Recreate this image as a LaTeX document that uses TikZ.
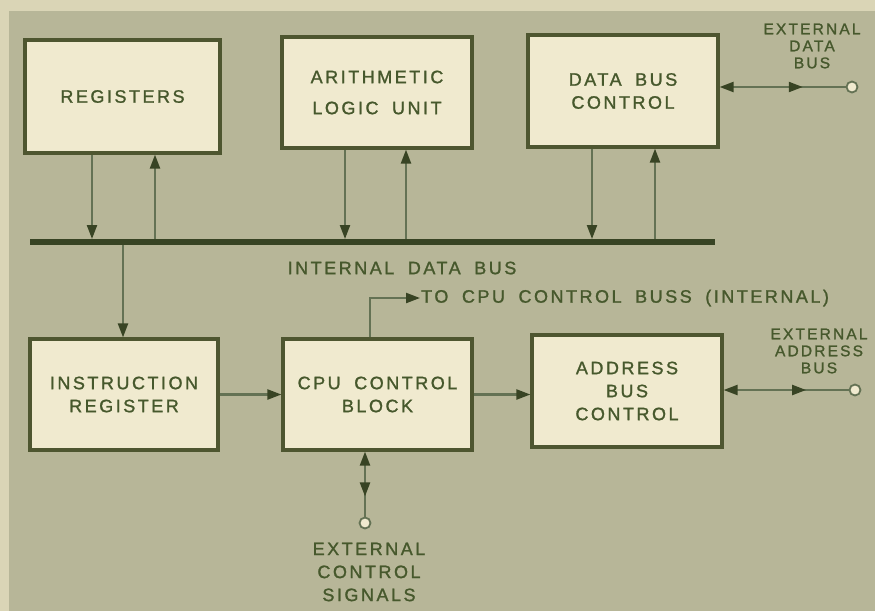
\documentclass[tikz,border=0pt]{standalone}
\usepackage{fontspec}
\setmainfont{Liberation Sans}
\newfontfamily\hand[LetterSpace=14,WordSpace=1.8,FakeBold=1.3]{Liberation Sans}
\usetikzlibrary{arrows.meta,decorations.markings}
\definecolor{bg}{RGB}{183,182,152}
\definecolor{strip}{RGB}{218,213,182}
\definecolor{paper}{RGB}{240,234,207}
\definecolor{ink}{RGB}{70,88,44}
\definecolor{edge}{RGB}{78,86,48}
\definecolor{wire}{RGB}{100,114,84}
\definecolor{busc}{RGB}{56,68,36}
\begin{document}
\begin{tikzpicture}[x=1pt,y=-1pt,
  block/.style={draw=edge,line width=3.2pt,fill=paper,inner sep=0pt,align=center,
    text=ink,font=\hand\fontsize{18}{23}\selectfont},
  lbl/.style={inner sep=0pt,align=center,text=ink,font=\hand\fontsize{18}{23}\selectfont},
  slbl/.style={inner sep=0pt,align=center,text=ink,font=\hand\fontsize{15.5}{17}\selectfont},
  busline/.style={draw=busc,line width=6.5pt},
  wireline/.style={draw=wire,line width=2.2pt},
  arr/.style={wireline,-{Triangle[length=14pt,width=10pt,color=busc]}},
  arrdown/.style={arr,shorten >=3pt},
  arrup/.style={wireline,shorten <=3pt,-{Triangle[length=14pt,width=10pt,color=busc]}},
  biarr/.style={wireline,{Triangle[length=14pt,width=10pt,color=busc]}-},
  midarrow/.style={postaction={decorate},decoration={markings,
    mark=at position #1 with {\arrow{Triangle[length=14pt,width=10pt,color=busc]}}}},
  pin/.style={circle,draw=wire,line width=1.8pt,fill=paper,minimum size=11pt,inner sep=0pt}]
\useasboundingbox (0,0) rectangle (875,611);
\fill[bg] (0,0) rectangle (875,611);
\fill[strip] (0,0) rectangle (875,11);
\fill[strip] (0,0) rectangle (9,611);

% blocks
\node[block,minimum width=195pt,minimum height=113pt] (reg) at (122.5,96.5) {REGISTERS};
\node[block,minimum width=190pt,minimum height=111pt] (alu) at (377,92.5) {ARITHMETIC\\[8pt]LOGIC UNIT};
\node[block,minimum width=190pt,minimum height=112pt] (dbc) at (623,91) {DATA BUS\\CONTROL};
\node[block,minimum width=188pt,minimum height=111pt] (ir) at (124,394.5) {INSTRUCTION\\REGISTER};
\node[block,minimum width=189pt,minimum height=111pt] (cpu) at (377.5,394.5) {CPU CONTROL\\BLOCK};
\node[block,minimum width=190pt,minimum height=112pt] (abc) at (627,391) {ADDRESS\\BUS\\CONTROL};

% internal data bus
\coordinate (busL) at (30,242);
\coordinate (busR) at (715,242);
\draw[busline] (busL) -- (busR);
\node[lbl] (busname) at (402,268) {INTERNAL DATA BUS};

\coordinate (b1) at (92,242);
\coordinate (b2) at (155,242);
\coordinate (b3) at (345,242);
\coordinate (b4) at (406,242);
\coordinate (b5) at (592,242);
\coordinate (b6) at (655,242);
\coordinate (b7) at (123,242);

\draw[arrdown] (reg.south -| b1) -- (b1);
\draw[arrup] (b2) -- (reg.south -| b2);
\draw[arrdown] (alu.south -| b3) -- (b3);
\draw[arrup] (b4) -- (alu.south -| b4);
\draw[arrdown] (dbc.south -| b5) -- (b5);
\draw[arrup] (b6) -- (dbc.south -| b6);
\draw[arrup] (b7) -- (ir.north -| b7);

% lower row connectors
\draw[arr] (ir) -- (cpu);
\draw[arr] (cpu.east) -- (cpu.east -| abc.west);

\node[lbl,anchor=west] (tocpu) at (421,298) {TO CPU CONTROL BUSS (INTERNAL)};
\coordinate (cu) at (370,0);
\draw[arr,shorten >=1pt] (cpu.north -| cu) |- (tocpu.west);

% external data bus
\node[pin] (dpin) at (852,87) {};
\node[slbl] (dlab) at (812,46) {EXTERNAL\\DATA\\BUS};
\draw[biarr,midarrow=0.66] (dbc.east |- dpin) -- (dpin.west);

% external address bus
\node[pin] (apin) at (855,390) {};
\node[slbl] (alab) at (819,351) {EXTERNAL\\ADDRESS\\BUS};
\draw[biarr,midarrow=0.66] (abc.east |- apin) -- (apin.west);

% external control signals
\node[pin] (cpin) at (365,523) {};
\draw[biarr,midarrow=0.69] (cpu.south -| cpin) -- (cpin.north);
\node[lbl] (clab) at (369,572) {EXTERNAL\\CONTROL\\SIGNALS};
\end{tikzpicture}
\end{document}
